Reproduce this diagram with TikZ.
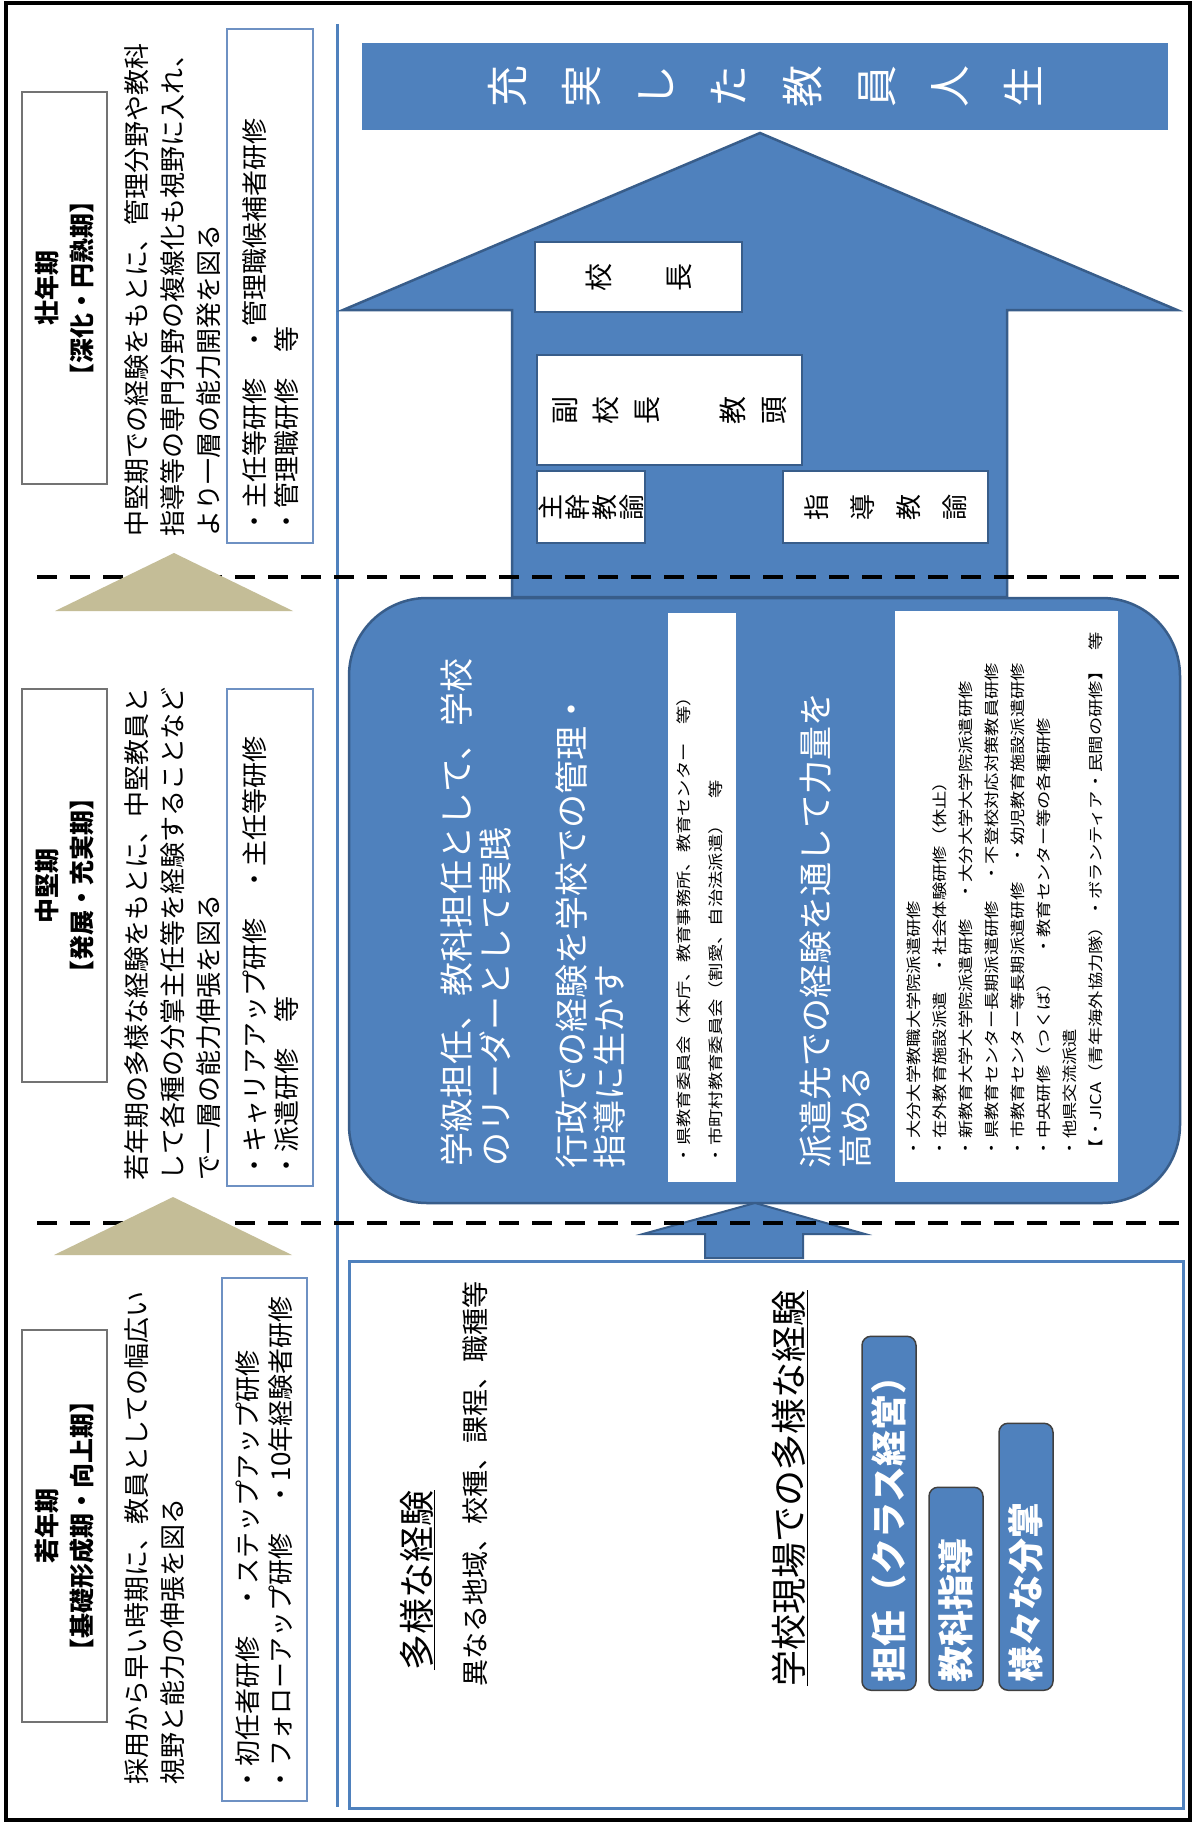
\documentclass[tikz,border=0pt]{standalone}
\usepackage{fontspec}
\setmainfont{Noto Sans CJK JP}
\newfontfamily\jpwide[FakeStretch=1.22]{Noto Sans CJK JP}
\definecolor{bl}{RGB}{79,129,189}
\definecolor{dbl}{RGB}{56,93,138}
\definecolor{tanc}{RGB}{196,189,151}
\definecolor{tbord}{RGB}{110,145,195}
\tikzset{
  rt/.style={rotate=90, inner sep=0pt, outer sep=0pt, anchor=north west, align=left},
  hdr/.style={draw=black!55, line width=1.5pt, fill=white, rotate=90, inner sep=0pt, align=center, font=\bfseries\fontsize{25}{35}\selectfont},
  tbox/.style={draw=tbord, line width=1.3pt, fill=white, rotate=90, inner sep=0pt},
  wbox/.style={draw=dbl, line width=2pt, fill=white, rotate=90, inner sep=0pt, align=center},
  blshape/.style={fill=bl, draw=dbl, line width=2.5pt, line join=miter},
  barbox/.style={draw=black!75, line width=1.5pt, fill=bl, rounded corners=9pt, rotate=90, anchor=west, inner xsep=8pt, inner ysep=0pt, minimum height=54pt, align=left, text=white, font=\bfseries\fontsize{36}{40}\selectfont},
  dashln/.style={line width=4pt, dash pattern=on 20pt off 13pt},
}
\begin{document}
\begin{tikzpicture}[x=1pt,y=1pt]
\useasboundingbox (0,0) rectangle (1195,-1822);
\fill[white] (0,0) rectangle (1195,-1822);
\draw[line width=3.5pt] (6,-3) rectangle (1190,-1820);

% separator
\coordinate (sepT) at (337,-24);
\coordinate (sepB) at (337,-1807);
\draw[bl, line width=3pt] (sepT) -- (sepB);

% header boxes
\node[hdr, minimum width=392pt, minimum height=85pt] (h3) at (64.5,-288) {壮年期\\【深化・円熟期】};
\node[hdr, minimum width=393pt, minimum height=85pt] (h2) at (64.5,-885.5) {中堅期\\【発展・充実期】};
\node[hdr, minimum width=392pt, minimum height=85pt] (h1) at (64.5,-1526) {若年期\\【基礎形成期・向上期】};

% descriptions
\node[rt, font=\fontsize{26}{36}\selectfont] (d3) at (125,-536) {中堅期での経験をもとに、管理分野や教科\\指導等の専門分野の複線化も視野に入れ、\\より一層の能力開発を図る};
\node[rt, font=\fontsize{26}{36}\selectfont] (d2) at (125,-1180) {若年期の多様な経験をもとに、中堅教員と\\して各種の分掌主任等を経験することなど\\で一層の能力伸張を図る};
\node[rt, font=\fontsize{26}{36}\selectfont] (d1) at (125,-1784) {採用から早い時期に、教員としての幅広い\\視野と能力の伸張を図る};

% training boxes
\node[tbox, minimum width=514pt, minimum height=86pt] (tb3) at (270,-286) {};
\node[tbox, minimum width=497pt, minimum height=86pt] (tb2) at (270,-937.5) {};
\node[tbox, minimum width=523pt, minimum height=85pt] (tb1) at (264.5,-1539.5) {};
\node[rt, font=\fontsize{26}{32}\selectfont] (t3) at (243,-534) {・主任等研修　・管理職候補者研修\\・管理職研修　等};
\node[rt, font=\fontsize{26}{32}\selectfont] (t2) at (243,-1178) {・キャリアアップ研修　・主任等研修\\・派遣研修　等};
\node[rt, font=\fontsize{26}{33}\selectfont] (t1) at (236,-1792) {・初任者研修　・ステップアップ研修\\・フォローアップ研修　・10年経験者研修};

% big arrow
\draw[blshape] (512,-597) -- (512,-310) -- (343,-310) -- (760,-133) -- (1177,-310) -- (1007,-310) -- (1007,-597) -- cycle;
\node[fill=bl, rotate=90, inner sep=0pt, minimum width=87pt, minimum height=806pt, align=center, text=white, font=\fontsize{42}{73.7}\selectfont] (goal) at (765,-86.5) {充\\実\\し\\た\\教\\員\\人\\生};

% boxes inside arrow
\node[wbox, minimum width=70pt, minimum height=207pt, font=\fontsize{28}{80}\selectfont] (kocho) at (638.5,-277) {校\\長};
\node[wbox, minimum width=110pt, minimum height=265pt, font=\fontsize{28}{41}\selectfont] (fuku) at (669.5,-410) {副\\校\\長\\[45pt]教\\頭};
\node[wbox, minimum width=72pt, minimum height=108pt, font=\fontsize{26}{27}\selectfont] (shukan) at (591,-507) {主\\幹\\教\\諭};
\node[wbox, minimum width=72pt, minimum height=205pt, font=\fontsize{26}{46}\selectfont] (shido) at (885.5,-507) {指\\導\\教\\諭};

% rounded box
\draw[blshape, rounded corners=78pt] (349,-598) rectangle (1180,-1203);
\node[rt, text=white, font=\fontsize{34}{39}\selectfont] (r1) at (441,-1166) {学級担任、教科担任として、学校\\のリーダーとして実践};
\node[rt, text=white, font=\fontsize{34}{38}\selectfont] (r2) at (556,-1168) {行政での経験を学校での管理・\\指導に生かす};
\node[fill=white, rotate=90, inner sep=0pt, minimum width=569pt, minimum height=68pt] (w1) at (702,-897.5) {};
\node[rt, font=\jpwide\fontsize{15}{32}\selectfont] (w1t) at (677,-1164) {・県教育委員会（本庁、教育事務所、教育センター　等）\\・市町村教育委員会（割愛、自治法派遣）　等};
\node[rt, text=white, font=\fontsize{34}{40}\selectfont] (r3) at (800,-1168) {派遣先での経験を通して力量を\\高める};
\node[fill=white, rotate=90, inner sep=0pt, minimum width=571pt, minimum height=223pt] (w2) at (1006.5,-896.5) {};
\node[rt, text width=525pt, font=\jpwide\fontsize{15}{26}\selectfont] (w2t) at (907,-1157) {・大分大学教職大学院派遣研修\\・在外教育施設派遣　・社会体験研修（休止）\\・新教育大学大学院派遣研修　・大分大学大学院派遣研修\\・県教育センター長期派遣研修　・不登校対応対策教員研修\\・市教育センター等長期派遣研修　・幼児教育施設派遣研修\\・中央研修（つくば）　・教育センター等の各種研修\\・他県交流派遣\\【・JICA（青年海外協力隊）・ボランティア・民間の研修】\hfill 等};

% bottom box and small arrow
\node[draw=bl, line width=3pt, fill=white, inner sep=0pt, minimum width=834pt, minimum height=547pt] (bot) at (766,-1534.5) {};
\draw[blshape, line width=2pt] (705,-1258) -- (705,-1234) -- (643,-1234) -- (755,-1203) -- (865,-1234) -- (803,-1234) -- (803,-1258) -- cycle;

\node[rt, font=\fontsize{36}{40}\selectfont] (b1) at (400,-1670) {\underline{多様な経験}};
\node[rt, font=\fontsize{27}{32}\selectfont] (b2) at (463,-1686) {異なる地域、校種、課程、職種等};
\node[rt, font=\fontsize{36}{40}\selectfont] (b3) at (772,-1686) {\underline{学校現場での多様な経験}};
\node[barbox, text width=338pt] (bar1) at (889,-1691) {担任（クラス経営）};
\node[barbox, text width=187pt] (bar2) at (956,-1691) {教科指導};
\node[barbox, text width=251pt] (bar3) at (1026,-1691) {様々な分掌};

% dashed period boundaries
\coordinate (dAl) at (37,-577);
\coordinate (dAr) at (1180,-577);
\coordinate (dBl) at (37,-1223);
\coordinate (dBr) at (1180,-1223);
\draw[dashln] (dAl) -- (dAr);
\draw[dashln] (dBl) -- (dBr);

% triangles
\fill[tanc] (55,-611) -- (174,-553) -- (293,-611) -- cycle;
\fill[tanc] (54,-1255) -- (173,-1197) -- (292,-1255) -- cycle;
\end{tikzpicture}
\end{document}
